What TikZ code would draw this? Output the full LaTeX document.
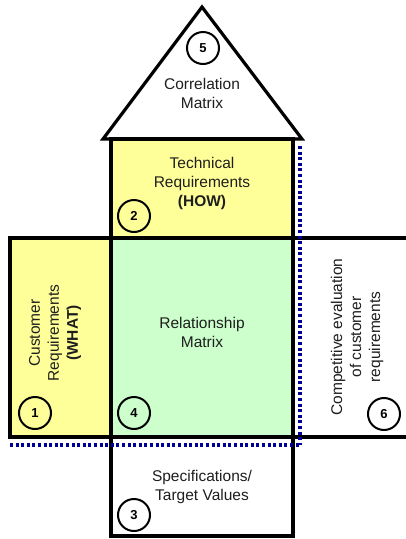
\documentclass[tikz,border=0pt]{standalone}
\usepackage{fontspec}
\setmainfont{Liberation Sans}
\begin{document}
\begin{tikzpicture}[x=1pt,y=-1pt,
  blk/.style={draw=black,line width=3.2pt},
  num/.style={circle,draw=black,line width=2pt,minimum size=32pt,inner sep=0pt,font=\fontsize{13}{13}\selectfont\bfseries},
  lbl/.style={align=center,text={rgb,255:red,30;green,30;blue,30},font=\fontsize{15.5}{19}\selectfont},
  dots/.style={draw={rgb,255:red,0;green,0;blue,150},line width=3.2pt,dash pattern=on 3pt off 2.6pt}]
\definecolor{qyellow}{RGB}{255,255,153}
\definecolor{qgreen}{RGB}{204,255,204}
\useasboundingbox (0,0) rectangle (405,539);
% roof
\path[blk,fill=white,line join=miter] (103,139) -- (202,7) -- (302,139) -- cycle;
% technical requirements
\path[blk,fill=qyellow] (111,139) rectangle (293,238);
% customer requirements
\path[blk,fill=qyellow] (10,238) rectangle (111,437);
% relationship matrix
\path[blk,fill=qgreen] (111,238) rectangle (293,437);
% competitive evaluation
\path[fill=white] (293,238) rectangle (410,437);
\draw[blk] (410,238) -- (293,238) -- (293,437) -- (410,437);
% specifications
\path[blk,fill=white] (111,437) rectangle (293,536);
% dotted lines
\coordinate (dtop) at (300,146);
\coordinate (dcorner) at (300,445);
\coordinate (dleft) at (10,445);
\draw[dots] (dtop) -- (dcorner);
\draw[dots] (dleft) -- (dcorner);
% labels
\node[lbl] (corr) at (202,93) {Correlation\\Matrix};
\node[lbl] (tech) at (202,183) {Technical\\Requirements\\\textbf{(HOW)}};
\node[lbl,rotate=90] (cust) at (55,333) {Customer\\Requirements\\\textbf{(WHAT)}};
\node[lbl] (rel) at (202,332) {Relationship\\Matrix};
\node[lbl,rotate=90] (comp) at (357,337) {Competitive evaluation\\of customer\\requirements};
\node[lbl] (spec) at (202,487) {Specifications/\\Target Values};
% numbers
\node[num] (n5) at (203,48) {5};
\node[num] (n2) at (134,216) {2};
\node[num] (n1) at (35,413) {1};
\node[num] (n4) at (134,413) {4};
\node[num] (n6) at (384,414) {6};
\node[num] (n3) at (134,515) {3};
\end{tikzpicture}
\end{document}
